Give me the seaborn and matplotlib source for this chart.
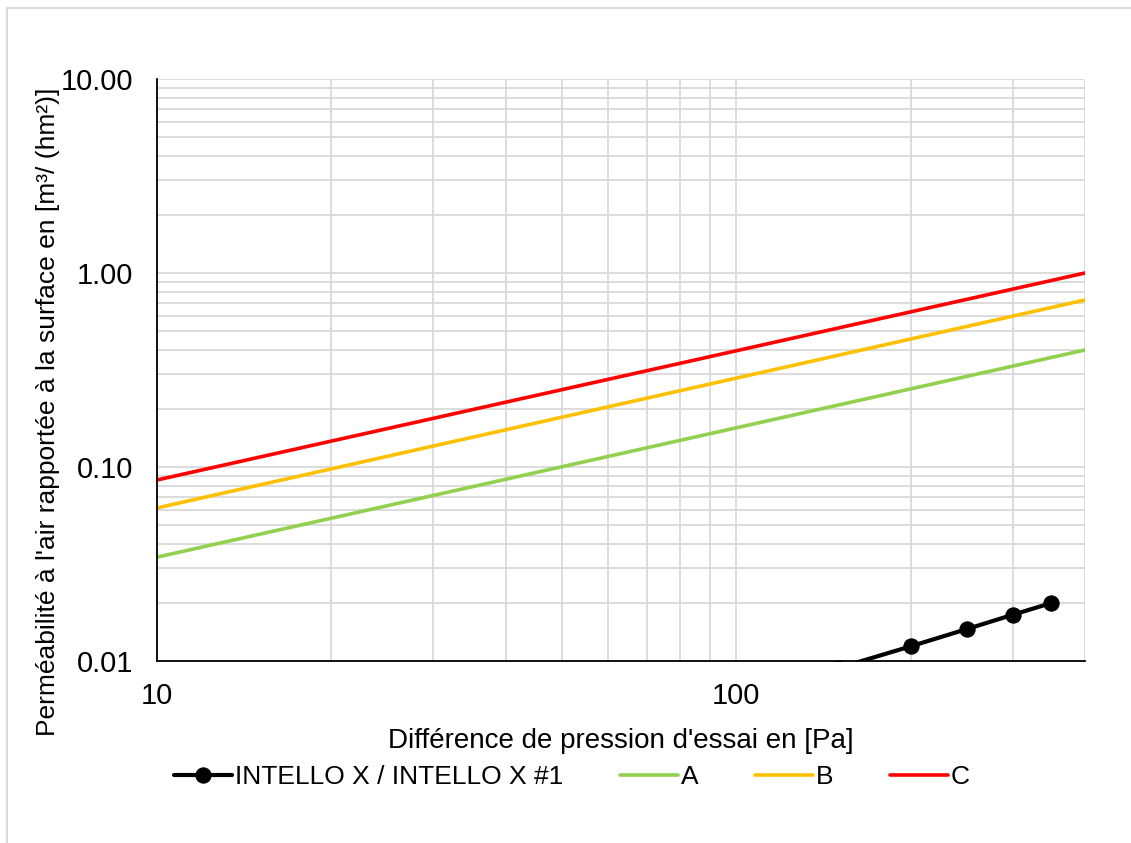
import matplotlib
matplotlib.use("Agg")
import matplotlib.pyplot as plt
import matplotlib.ticker as mticker
from matplotlib.patches import Rectangle
import seaborn as sns
import pandas as pd
import numpy as np

# données
pression_intello = [150, 200, 250, 300, 350]
perm_intello = [0.0092, 0.0119, 0.0146, 0.0173, 0.0199]

pression_classes = [10, 400]
perm_A = [0.0343, 0.401]
perm_B = [0.0615, 0.726]
perm_C = [0.0857, 1.0]

couleurs = {"A": "#92D050", "B": "#FFC000", "C": "#FF0000"}

sns.set_style("white")
plt.rcParams["font.family"] = ["Liberation Sans", "DejaVu Sans"]
plt.rcParams.update({"text.color": "black", "axes.labelcolor": "black",
                     "xtick.color": "black", "ytick.color": "black"})

fig = plt.figure(figsize=(11.31, 8.43), dpi=100)
ax = fig.add_axes([0.1388, 0.2159, 0.9593 - 0.1388, 0.9063 - 0.2159])

# cadre gris autour du graphique
fig.patches.append(Rectangle((7 / 1131, -0.01), 1.1, 1 - 8 / 843 + 0.01,
                             transform=fig.transFigure, fill=False,
                             edgecolor="#D9D9D9", linewidth=1.5))

df_intello = pd.DataFrame({"x": pression_intello, "y": perm_intello})
sns.lineplot(data=df_intello, x="x", y="y", ax=ax, color="black", linewidth=3,
             marker="o", markersize=11, markeredgecolor="black",
             label="INTELLO X / INTELLO X #1", zorder=5)

for nom, vals in [("A", perm_A), ("B", perm_B), ("C", perm_C)]:
    df = pd.DataFrame({"x": pression_classes, "y": vals})
    sns.lineplot(data=df, x="x", y="y", ax=ax, color=couleurs[nom],
                 linewidth=2.6, label=nom, zorder=4)

ax.set_xscale("log")
ax.set_yscale("log")
ax.set_xlim(10, 400)
ax.set_ylim(0.01, 10)

ax.xaxis.set_major_locator(mticker.FixedLocator([10, 100]))
ax.xaxis.set_major_formatter(mticker.FormatStrFormatter("%d"))
ax.xaxis.set_minor_locator(mticker.LogLocator(base=10, subs=np.arange(2, 10)))
ax.xaxis.set_minor_formatter(mticker.NullFormatter())
ax.yaxis.set_major_locator(mticker.FixedLocator([0.01, 0.1, 1, 10]))
ax.yaxis.set_major_formatter(mticker.FormatStrFormatter("%.2f"))
ax.yaxis.set_minor_locator(mticker.LogLocator(base=10, subs=np.arange(2, 10)))
ax.yaxis.set_minor_formatter(mticker.NullFormatter())

ax.grid(True, which="both", color="#D9D9D9", linewidth=1.3)
ax.tick_params(which="both", length=0, labelsize=21, labelcolor="black")
ax.tick_params(axis="y", pad=17)
ax.tick_params(axis="x", pad=15)

for s in ["top", "right"]:
    ax.spines[s].set_visible(False)
for s in ["left", "bottom"]:
    ax.spines[s].set_color("black")
    ax.spines[s].set_linewidth(1.3)
    ax.spines[s].set_zorder(6)

ax.set_xlabel("Différence de pression d'essai en [Pa]", fontsize=20, labelpad=13)
ax.set_ylabel("Perméabilité à l'air rapportée à la surface en [m³/ (hm²)]",
              fontsize=19)
ax.yaxis.set_label_coords(-0.105, 0.428)

leg = ax.legend(loc="center", bbox_to_anchor=(0.447, -0.199), ncol=4, frameon=False,
                fontsize=19, handlelength=2.2, handletextpad=0.1, columnspacing=2.15)
for t in leg.get_texts():
    t.set_color("black")

fig.savefig("out.png", dpi=100)
